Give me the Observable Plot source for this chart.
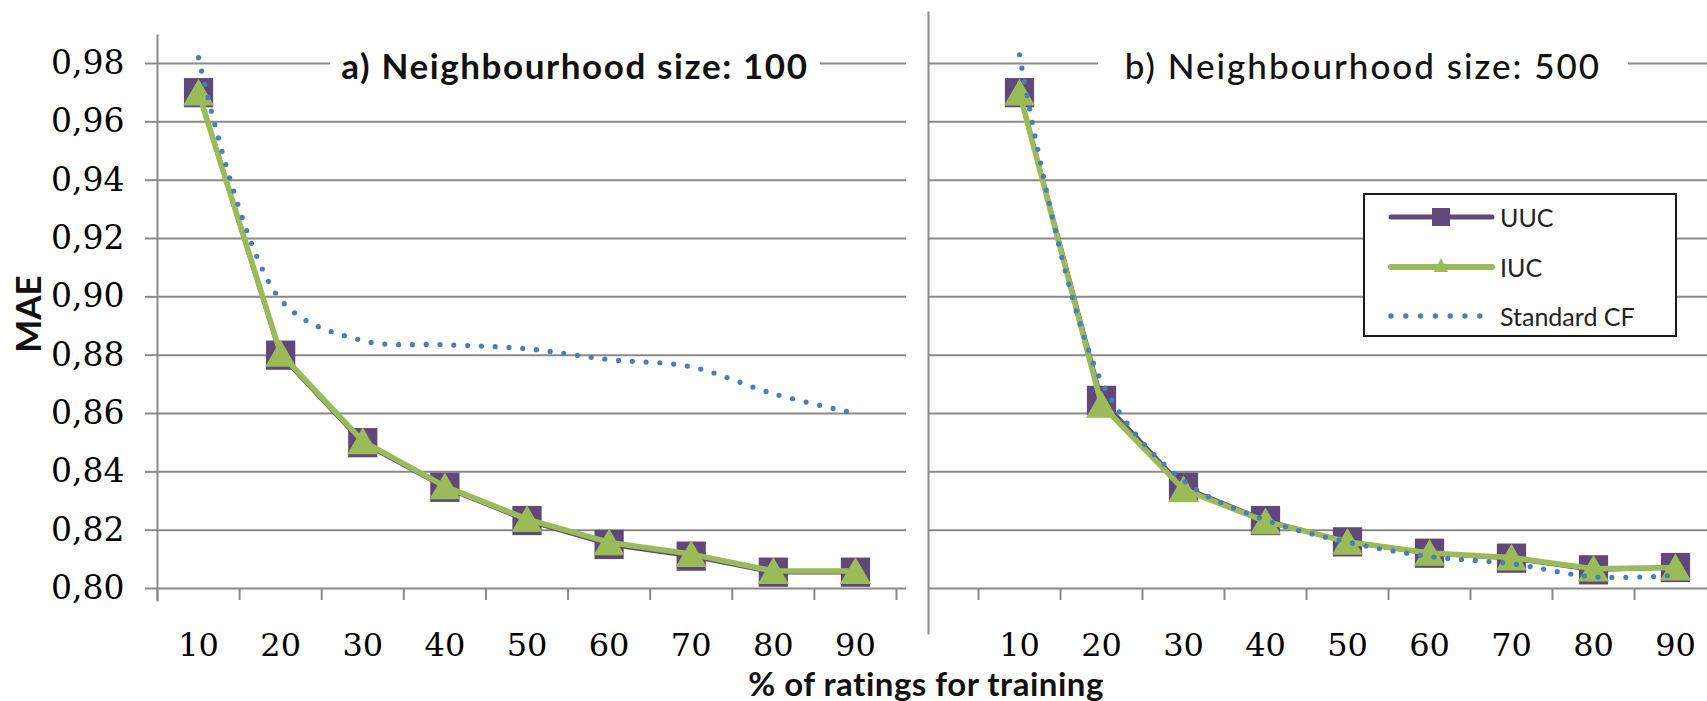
<!DOCTYPE html>
<html>
<head>
<meta charset="utf-8">
<script src="https://cdn.jsdelivr.net/npm/d3@7"></script>
<script src="https://cdn.jsdelivr.net/npm/@observablehq/plot@0.6"></script>
<style>
  html, body { margin: 0; padding: 0; background: #fff; overflow: hidden; }
  #wrap { position: relative; width: 1707px; height: 701px; background: #fff; }
  #wrap > .abs { position: absolute; }
  .title { text-align: center; background: #fff; font-family: Lato, sans-serif; font-size: 35px; line-height: 41px; color: #111; white-space: nowrap; letter-spacing: 1.6px; }
  .legend { background: #fff; border: 2px solid #1a1a1a; box-sizing: border-box; }
  .legend .row { position: absolute; left: 0; height: 30px; display: flex; align-items: center; }
  .legend .lab { position: absolute; left: 135px; font-family: Lato, sans-serif; font-size: 25px; line-height: 30px; color: #222; white-space: nowrap; }
</style>
</head>
<body>
<div id="wrap"></div>
<script>
// ---------- data ----------
const categories = [10, 20, 30, 40, 50, 60, 70, 80, 90];
const yTicks = [0.80, 0.82, 0.84, 0.86, 0.88, 0.90, 0.92, 0.94, 0.96, 0.98];
const yTickLabels = ["0,80", "0,82", "0,84", "0,86", "0,88", "0,90", "0,92", "0,94", "0,96", "0,98"];
const seriesNames = ["UUC", "IUC", "Standard CF"];
const panelTitles = ["a) Neighbourhood size: 100", "b) Neighbourhood size: 500"];
const xTitle = "% of ratings for training";
const yTitle = "MAE";

// panel a) neighbourhood size 100
const uucA = [0.970, 0.880, 0.850, 0.8347, 0.8233, 0.8151, 0.8111, 0.8056, 0.8056];
const iucA = [0.970, 0.8805, 0.8505, 0.8350, 0.8238, 0.8158, 0.8118, 0.8060, 0.8060];
const cfA  = [0.982, 0.899, 0.885, 0.8836, 0.8822, 0.8785, 0.8760, 0.8668, 0.8600];
// panel b) neighbourhood size 500
const uucB = [0.970, 0.8645, 0.8347, 0.8233, 0.8160, 0.8121, 0.8104, 0.8064, 0.8072];
const iucB = [0.970, 0.8630, 0.8340, 0.8230, 0.8160, 0.8122, 0.8106, 0.8068, 0.8072];
const cfB  = [0.983, 0.871, 0.837, 0.8235, 0.8159, 0.8110, 0.8085, 0.8040, 0.8045];

// ---------- styles ----------
const PURPLE = "#60497A", GREEN = "#9BBB59", BLUE = "#4A7EBB", GRID = "#8a8a8a";
const TICKFONT = "DejaVu Serif";

const step = categories[1] - categories[0];
const bounds = [...categories.map(c => c - step / 2), categories[categories.length - 1] + step / 2];
const xDomain = [bounds[0], bounds[bounds.length - 1]];
const yDomain = [yTicks[0], yTicks[yTicks.length - 1]];

function rowsOf(uuc, iuc, cf) {
  return categories.map((c, i) => ({pct: c, uuc: uuc[i], iuc: iuc[i], cf: cf[i]}));
}

function panel(rows, o) {
  return Plot.plot({
    width: o.width, height: 701,
    marginLeft: o.ml, marginRight: o.mr, marginTop: o.mt, marginBottom: o.mb,
    x: {type: "linear", domain: xDomain, range: o.xRange, axis: null},
    y: {type: "linear", domain: yDomain, range: [588, 63], axis: null},
    style: {background: "transparent", overflow: "visible", color: "#000"},
    marks: [
      Plot.gridY(yTicks, {stroke: GRID, strokeOpacity: 1, strokeWidth: 2}),
      o.yAxis ? Plot.axisY(yTicks, {
        tickSize: 12, tickPadding: 21, stroke: GRID, strokeWidth: 2, strokeOpacity: 1,
        fill: "#000", fontSize: 33, fontFamily: TICKFONT,
        tickFormat: d => yTickLabels[yTicks.indexOf(d)], label: null
      }) : null,
      Plot.frame({anchor: "left", stroke: GRID, strokeWidth: 2}),
      Plot.ruleX(bounds, {x: d => d, y1: () => yDomain[0], y2: () => yDomain[0], insetBottom: -12, stroke: GRID, strokeWidth: 2}),
      Plot.axisX(categories, {tickSize: 0, tickPadding: o.xPad, fill: "#000", fontSize: 32, fontFamily: TICKFONT, label: null, tickFormat: d => String(d)}),
      Plot.line(rows, {x: "pct", y: "uuc", stroke: PURPLE, strokeWidth: 4.5}),
      Plot.dot(rows, {x: "pct", y: "uuc", symbol: "square", r: 16.5, fill: PURPLE, stroke: null}),
      Plot.line(rows, {x: "pct", y: "iuc", stroke: GREEN, strokeWidth: 5.5}),
      Plot.dot(rows, {x: "pct", y: "iuc", symbol: "triangle", r: 11.5, fill: GREEN, stroke: null, dy: 4}),
      Plot.line(rows, {x: "pct", y: "cf", curve: "catmull-rom", stroke: BLUE, strokeWidth: 5.2,
        strokeDasharray: "0 13.8", strokeLinecap: "round"})
    ]
  });
}

const wrap = document.getElementById("wrap");

const left = panel(rowsOf(uucA, iucA, cfA), {width: 927, ml: 157, mr: 21, mt: 35, mb: 101, xRange: [157, 896], yAxis: true, xPad: 33});
left.style.position = "absolute"; left.style.left = "0px"; left.style.top = "0px";
wrap.appendChild(left);

const right = panel(rowsOf(uucB, iucB, cfB), {width: 780, ml: 1, mr: 0, mt: 12, mb: 68, xRange: [51, 789], yAxis: false, xPad: 0});
right.style.position = "absolute"; right.style.left = "927px"; right.style.top = "0px";
wrap.appendChild(right);

// titles
function addDiv(cls, text, css) {
  const d = document.createElement("div");
  d.className = "abs " + cls;
  d.textContent = text;
  Object.assign(d.style, css);
  wrap.appendChild(d);
  return d;
}
addDiv("title", panelTitles[0], {left: "330px", width: "490px", top: "45px", fontWeight: "700"});
addDiv("title", panelTitles[1], {left: "1098px", width: "530px", top: "45px", fontWeight: "500", letterSpacing: "2px"});

// axis titles
addDiv("", xTitle, {left: "926px", top: "670px", transform: "translateX(-50%)", fontFamily: "Lato, sans-serif",
  fontWeight: "700", fontSize: "33px", lineHeight: "27px", letterSpacing: "0.5px", color: "#111", whiteSpace: "nowrap"});
addDiv("", yTitle, {left: "27px", top: "314px", transform: "translate(-50%,-50%) rotate(-90deg)", fontFamily: "Lato, sans-serif",
  fontWeight: "700", fontSize: "35px", lineHeight: "36px", color: "#111", whiteSpace: "nowrap"});

// legend
const leg = document.createElement("div");
leg.className = "abs legend";
Object.assign(leg.style, {left: "1363px", top: "193px", width: "314px", height: "144px"});
wrap.appendChild(leg);
const rowTops = [7, 57, 106];
const ns = "http://www.w3.org/2000/svg";
function el(tag, attrs) { const e = document.createElementNS(ns, tag); for (const k in attrs) e.setAttribute(k, attrs[k]); return e; }
seriesNames.forEach((name, i) => {
  const row = document.createElement("div");
  row.className = "row";
  row.style.top = rowTops[i] + "px";
  const svg = el("svg", {width: 110, height: 30, style: "position:absolute;left:23px;top:0"});
  if (i === 0) {
    svg.appendChild(el("line", {x1: 3, x2: 104, y1: 15, y2: 15, stroke: PURPLE, "stroke-width": 5, "stroke-linecap": "round"}));
    svg.appendChild(el("rect", {x: 44, y: 6, width: 18, height: 18, fill: PURPLE}));
  } else if (i === 1) {
    svg.appendChild(el("line", {x1: 3, x2: 104, y1: 15, y2: 15, stroke: GREEN, "stroke-width": 6, "stroke-linecap": "round"}));
    svg.appendChild(el("path", {d: "M53,6 L60,20 L46,20 Z", fill: GREEN}));
  } else {
    for (let k = 0; k < 7; k++) svg.appendChild(el("circle", {cx: 3 + k * 14.8, cy: 15, r: 2.7, fill: BLUE}));
  }
  row.appendChild(svg);
  const lab = document.createElement("div");
  lab.className = "lab";
  lab.textContent = name;
  row.appendChild(lab);
  leg.appendChild(row);
});
</script>
</body>
</html>
